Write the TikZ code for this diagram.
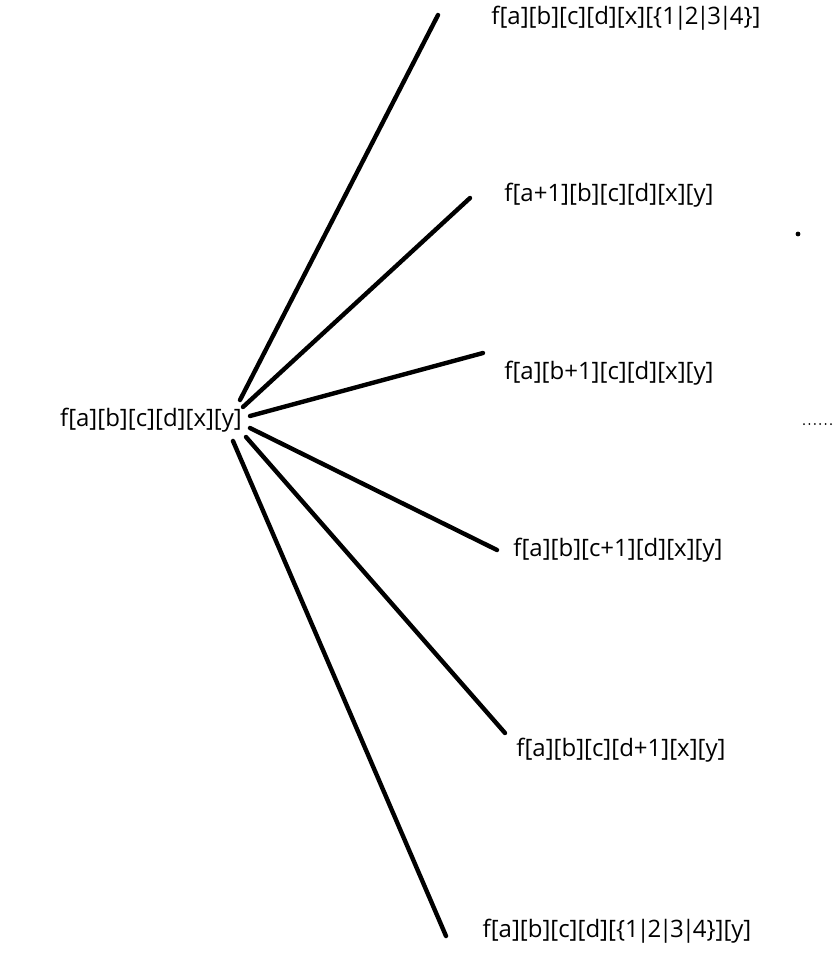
\documentclass[tikz,border=0pt]{standalone}
\usepackage{fontspec}
\setmainfont{Open Sans}
\newcommand{\pp}{\kern-2.2pt|\kern-2.2pt}
\begin{document}
\begin{tikzpicture}[x=1pt,y=-1pt,
  lbl/.style={inner sep=0pt,font=\fontsize{24}{28}\selectfont},
  edge/.style={line width=4.4pt,line cap=round}]
\useasboundingbox (0,0) rectangle (833,962);
\node[lbl] (r) at (151,420) {f[a][b][c][d][x][y]};
\node[lbl] (c1) at (626,18) {f[a][b][c][d][x][\{1\pp2\pp3\pp4\}]};
\node[lbl] (c2) at (609,195) {f[a+1][b][c][d][x][y]};
\node[lbl] (c3) at (609,373) {f[a][b+1][c][d][x][y]};
\node[lbl] (c4) at (618,550) {f[a][b][c+1][d][x][y]};
\node[lbl] (c5) at (621,750) {f[a][b][c][d+1][x][y]};
\node[lbl] (c6) at (617,931) {f[a][b][c][d][\{1\pp2\pp3\pp4\}][y]};
\coordinate (s1) at (240,400); \coordinate (e1) at (438,15);
\coordinate (s2) at (243,407); \coordinate (e2) at (470,198);
\coordinate (s3) at (250,416); \coordinate (e3) at (483,353);
\coordinate (s4) at (250,428); \coordinate (e4) at (497,550);
\coordinate (s5) at (246,437); \coordinate (e5) at (505,733);
\coordinate (s6) at (233,441); \coordinate (e6) at (446,936);
\foreach \i in {1,...,6} \draw[edge] (s\i) -- (e\i);
\fill (798,234) circle (2.4);
\foreach \k in {0,...,5} \fill (804+5.4*\k,424) circle (1);
\end{tikzpicture}
\end{document}
